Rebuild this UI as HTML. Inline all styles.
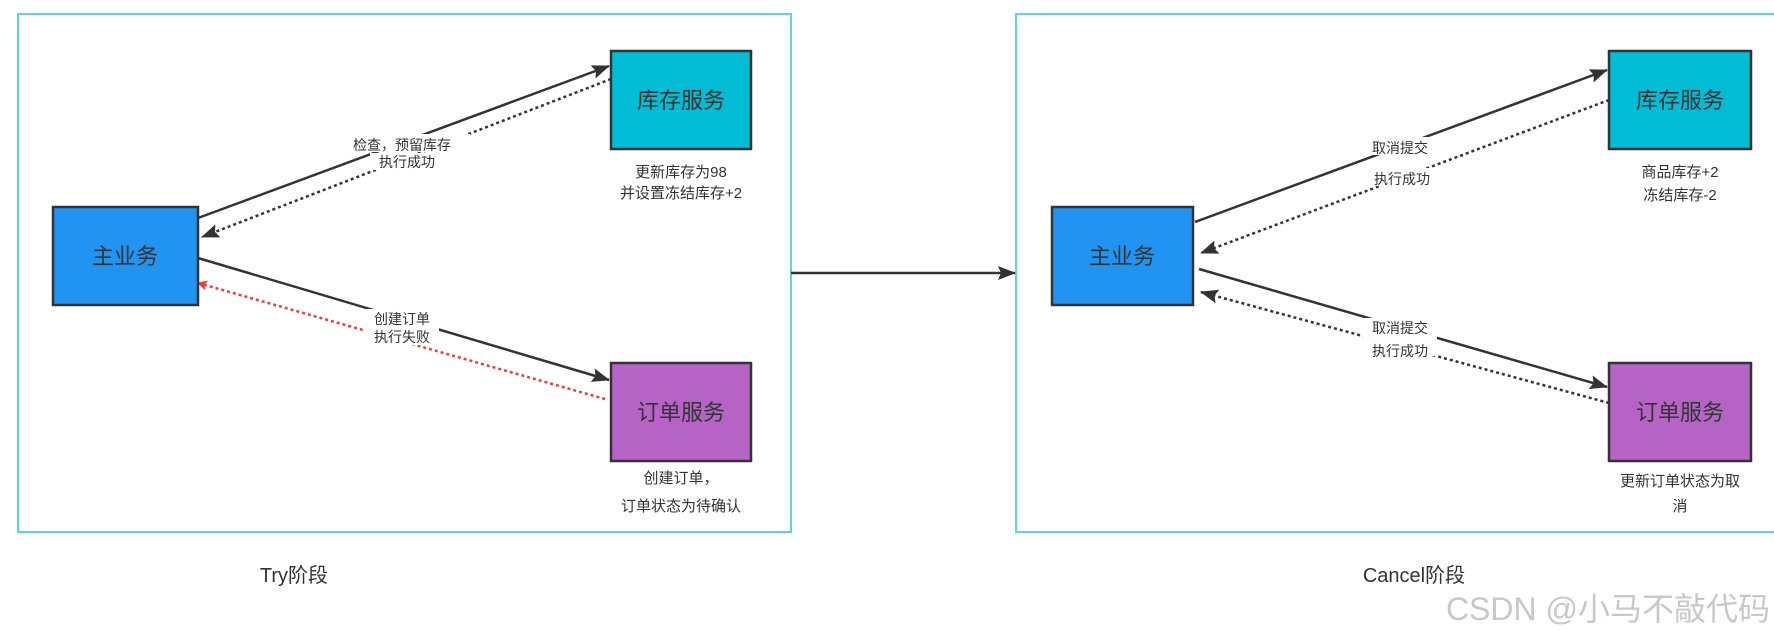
<!DOCTYPE html>
<html><head><meta charset="utf-8"><style>
body{margin:0;background:#fff;}
svg text{font-family:"Liberation Sans","Noto Sans CJK SC",sans-serif;}
</style></head><body>
<svg width="1774" height="638" viewBox="0 0 1774 638" xmlns="http://www.w3.org/2000/svg">
<defs>
<marker id="r" markerWidth="10" markerHeight="10" refX="9" refY="5" orient="auto" markerUnits="userSpaceOnUse" viewBox="0 0 10 10"><path d="M0,0 L10,5 L0,10 L2,5 z" fill="#f03c3c"/></marker>
<marker id="b" markerWidth="18" markerHeight="14" refX="17" refY="7" orient="auto" markerUnits="userSpaceOnUse" viewBox="0 0 18 14"><path d="M0,0 L18,7 L0,14 L3,7 z" fill="#333"/></marker>
</defs>
<rect x="18" y="14" width="773" height="518" fill="none" stroke="#5fd3e3" stroke-width="2"/>
<rect x="1016" y="14" width="770" height="518" fill="none" stroke="#5fd3e3" stroke-width="2"/>
<line x1="791" y1="273" x2="1015" y2="273" stroke="#333" stroke-width="2.5" marker-end="url(#b)"/>
<g stroke-width="2.5" fill="none">
<line x1="198" y1="218" x2="609" y2="66" stroke="#333" marker-end="url(#b)"/>
<line x1="611" y1="79" x2="202" y2="237" stroke="#333" stroke-dasharray="3,3" marker-end="url(#b)"/>
<line x1="198" y1="258" x2="609" y2="380" stroke="#333" marker-end="url(#b)"/>
<line x1="605" y1="399" x2="198" y2="283" stroke="#f03c3c" stroke-dasharray="3,3" marker-end="url(#r)"/>
<line x1="1195" y1="222" x2="1607" y2="70" stroke="#333" marker-end="url(#b)"/>
<line x1="1609" y1="100" x2="1201" y2="253" stroke="#333" stroke-dasharray="3,3" marker-end="url(#b)"/>
<line x1="1199" y1="269" x2="1607" y2="387" stroke="#333" marker-end="url(#b)"/>
<line x1="1609" y1="403" x2="1201" y2="292" stroke="#333" stroke-dasharray="3,3" marker-end="url(#b)"/>
</g>
<g stroke="#333" stroke-width="2.5">
<rect x="53" y="207" width="145" height="98" fill="#2193f0"/>
<rect x="611" y="51" width="140" height="98" fill="#00bcd4"/>
<rect x="611" y="363" width="140" height="98" fill="#b564c6"/>
<rect x="1052" y="207" width="141" height="98" fill="#2193f0"/>
<rect x="1609" y="51" width="142" height="98" fill="#00bcd4"/>
<rect x="1609" y="363" width="142" height="98" fill="#b564c6"/>
</g>
<g font-size="22" fill="#333" text-anchor="middle">
<text x="125" y="264">主业务</text>
<text x="681" y="108">库存服务</text>
<text x="681" y="420">订单服务</text>
<text x="1122" y="264">主业务</text>
<text x="1680" y="108">库存服务</text>
<text x="1680" y="420">订单服务</text>
</g>
<g font-size="14" fill="#333" text-anchor="middle">
<rect x="335" y="134" width="135" height="18" fill="#fff"/>
<rect x="370" y="153" width="74" height="17" fill="#fff"/>
<text x="402" y="150">检查，预留库存</text>
<text x="407" y="167">执行成功</text>
<rect x="365" y="309" width="74" height="36" fill="#fff"/>
<text x="402" y="324">创建订单</text>
<text x="402" y="342">执行失败</text>
<rect x="1363" y="137" width="74" height="18" fill="#fff"/>
<rect x="1365" y="168" width="74" height="18" fill="#fff"/>
<text x="1400" y="153">取消提交</text>
<text x="1402" y="184">执行成功</text>
<rect x="1363" y="318" width="74" height="38" fill="#fff"/>
<text x="1400" y="333">取消提交</text>
<text x="1400" y="356">执行成功</text>
<g font-size="15">
<text x="681" y="177">更新库存为98</text>
<text x="681" y="198">并设置冻结库存+2</text>
<text x="681" y="483">创建订单，</text>
<text x="681" y="511">订单状态为待确认</text>
<text x="1680" y="177">商品库存+2</text>
<text x="1680" y="200">冻结库存-2</text>
<text x="1680" y="486">更新订单状态为取</text>
<text x="1680" y="511">消</text>
</g>
</g>
<text x="294" y="582" font-size="20" fill="#333" text-anchor="middle">Try阶段</text>
<text x="1414" y="582" font-size="20" fill="#333" text-anchor="middle">Cancel阶段</text>
<text x="1770" y="620" font-size="32" fill="#c8c8c8" text-anchor="end">CSDN @小马不敲代码</text>
</svg>
</body></html>
